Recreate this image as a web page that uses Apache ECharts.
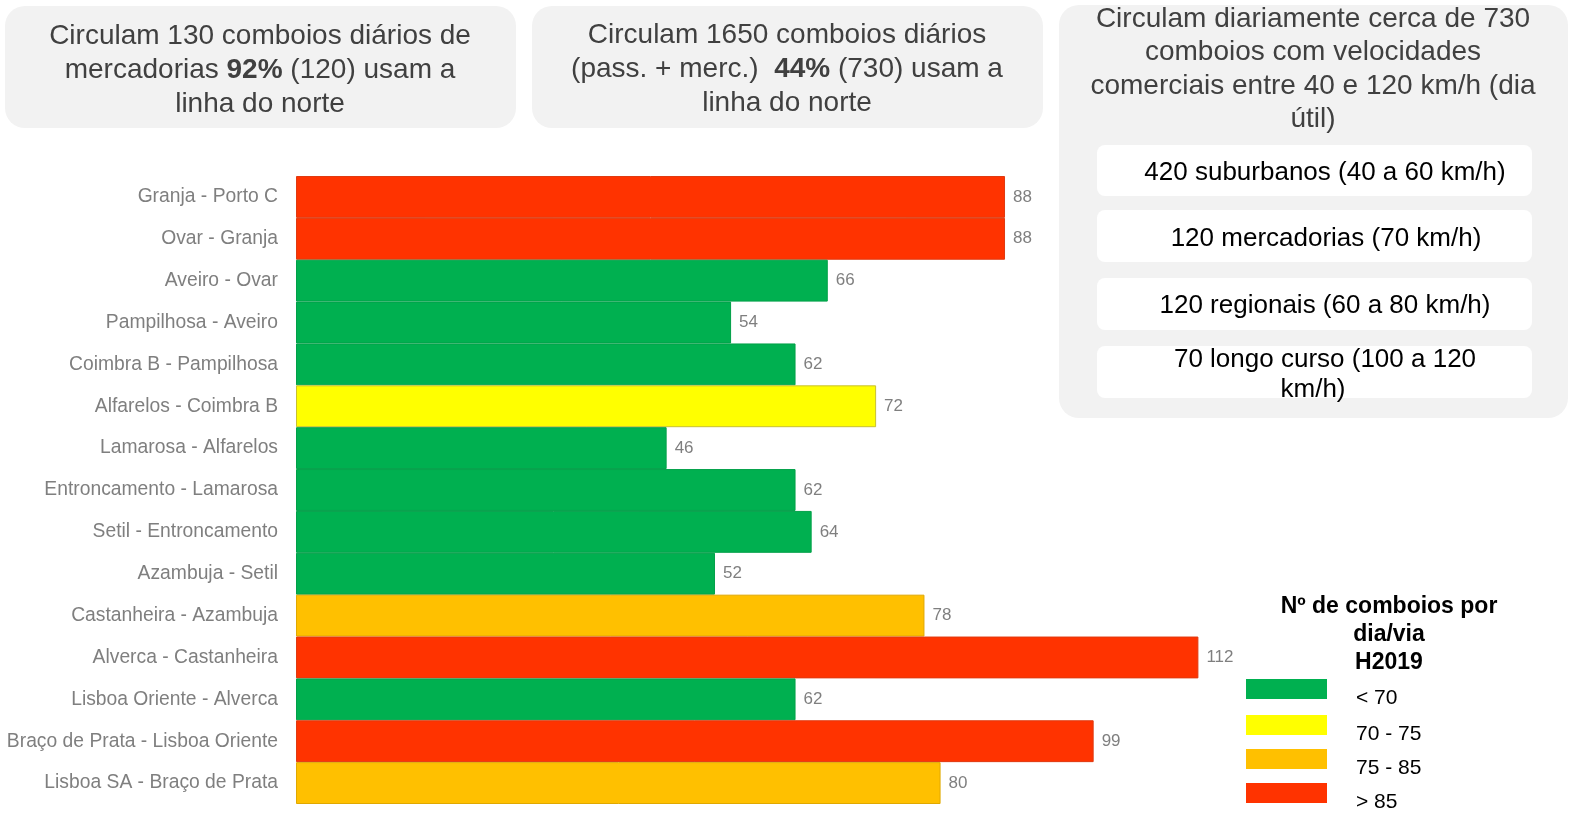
<!DOCTYPE html>
<html><head><meta charset="utf-8">
<script src="https://cdn.jsdelivr.net/npm/echarts@6/dist/echarts.min.js"></script>
<style>html,body{margin:0;padding:0;background:#fff}#c{width:1569px;height:814px}</style>
</head><body><div id="c"></div>
<script>
const categories = ["Granja - Porto C","Ovar - Granja","Aveiro - Ovar","Pampilhosa - Aveiro","Coimbra B - Pampilhosa","Alfarelos - Coimbra B","Lamarosa - Alfarelos","Entroncamento - Lamarosa","Setil - Entroncamento","Azambuja - Setil","Castanheira - Azambuja","Alverca - Castanheira","Lisboa Oriente - Alverca","Braço de Prata - Lisboa Oriente","Lisboa SA - Braço de Prata"];
const values = [88,88,66,54,62,72,46,62,64,52,78,112,62,99,80];
const legendLabels = ["< 70","70 - 75","75 - 85","> 85"];
const legendColors = ["#00b050","#ffff00","#ffc000","#ff3300"];
const borderColors = ["#00a048","#c8c030","#e0a800","#e03a10"];
function colorIdx(v){ if(v<70) return 0; if(v<=75) return 1; if(v<=85) return 2; return 3; }

const F = '"Liberation Sans", Arial, sans-serif';
const chart = echarts.init(document.getElementById('c'));
const graphic = [];
const DY = 2;
function box(x,y,w,h,r,fill){ graphic.push({type:'rect',shape:{x:x,y:y,width:w,height:h,r:r},style:{fill:fill},z:0}); }
function txt(x,y,t,size,color,weight,rich){ graphic.push({type:'text',x:x,y:y+DY,style:{text:t,font:(weight||'normal')+' '+size+'px '+F,fill:color,align:'center',verticalAlign:'middle',rich:rich},z:2}); }
box(5,6,511,122,20,'#f2f2f2');
box(532,6,511,122,20,'#f2f2f2');
box(1059,5,509,413,20,'#f2f2f2');
const richB = {b:{font:'bold 28px '+F,fill:'#404040'}};
txt(260,34,'Circulam 130 comboios diários de',28,'#404040');
txt(260,68,'mercadorias {b|92%} (120) usam a',28,'#404040',null,richB);
txt(260,102,'linha do norte',28,'#404040');
txt(787,33,'Circulam 1650 comboios diários',28,'#404040');
txt(787,67,'(pass. + merc.)  {b|44%} (730) usam a',28,'#404040',null,richB);
txt(787,101,'linha do norte',28,'#404040');
txt(1313,17,'Circulam diariamente cerca de 730',28,'#404040');
txt(1313,50,'comboios com velocidades',28,'#404040');
txt(1313,84,'comerciais entre 40 e 120 km/h (dia',28,'#404040');
txt(1313,117,'útil)',28,'#404040');
box(1097,145,435,51,8,'#ffffff');
box(1097,210,435,52,8,'#ffffff');
box(1097,278,435,52,8,'#ffffff');
box(1097,346,435,52,8,'#ffffff');
txt(1325,171,'420 suburbanos (40 a 60 km/h)',26,'#000');
txt(1326,237,'120 mercadorias (70 km/h)',26,'#000');
txt(1325,304,'120 regionais (60 a 80 km/h)',26,'#000');
txt(1325,358,'70 longo curso (100 a 120',26,'#000');
txt(1313,388,'km/h)',26,'#000');
// legend
txt(1389,605,'Nº de comboios por',23,'#000','bold');
txt(1389,633,'dia/via',23,'#000','bold');
txt(1389,661,'H2019',23,'#000','bold');
const swY=[679,715,749,783];
legendLabels.forEach((l,i)=>{
  graphic.push({type:'rect',shape:{x:1246,y:swY[i],width:81,height:20},style:{fill:legendColors[i]},z:2});
  graphic.push({type:'text',x:1356,y:swY[i]+19,style:{text:l,font:'21px '+F,fill:'#000',align:'left',verticalAlign:'middle'},z:2});
});

chart.setOption({
  animation:false,
  grid:{left:296,top:176,width:1128,bottom:10,containLabel:false},
  xAxis:{type:'value',min:0,max:140,show:false},
  yAxis:{type:'category',data:categories,inverse:true,axisLine:{show:false},axisTick:{show:false},
    axisLabel:{color:'#7f7f7f',fontSize:19.3,fontFamily:F,margin:18}},
  series:[{type:'bar',barCategoryGap:'0%',
    data:values.map(v=>({value:v,itemStyle:{color:legendColors[colorIdx(v)],borderColor:borderColors[colorIdx(v)],borderWidth:1}})),
    label:{show:true,position:'right',distance:8,color:'#7f7f7f',fontSize:17,fontFamily:F}}],
  graphic:graphic
});
</script></body></html>
